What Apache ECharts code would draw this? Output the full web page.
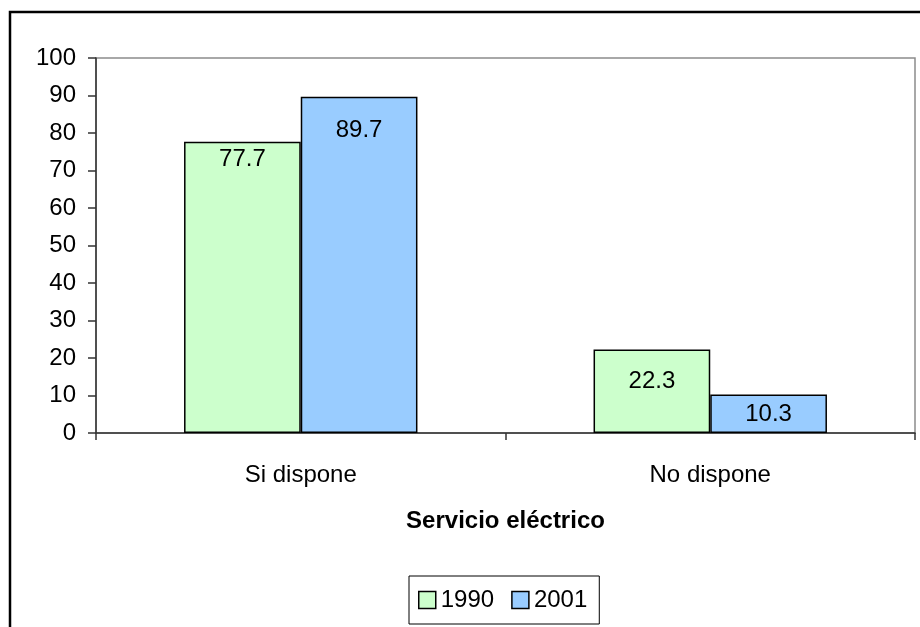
<!DOCTYPE html>
<html><head><meta charset="utf-8">
<script src="https://cdn.jsdelivr.net/npm/echarts@6/dist/echarts.min.js"></script>
<style>html,body{margin:0;padding:0;background:#fff}#c{width:920px;height:627px}</style>
</head><body><div id="c"></div>
<script>
const categories = ['Si dispone', 'No dispone'];
const seriesNames = ['1990', '2001'];
const values1990 = [77.7, 22.3];
const values2001 = [89.7, 10.3];
const yTicks = [0, 10, 20, 30, 40, 50, 60, 70, 80, 90, 100];
const xAxisTitle = 'Servicio eléctrico';

// label placement (style only)
const labelDist1990 = [6, 20];
const labelDist2001 = [22, 8];

const font = 'Liberation Sans, Arial, sans-serif';
const fs = 24;
function items(vals, dists) {
  return vals.map((v, i) => ({ value: v, label: { distance: dists[i] } }));
}
const chart = echarts.init(document.getElementById('c'));
chart.setOption({
  animation: false,
  backgroundColor: '#fff',
  textStyle: { fontFamily: font },
  grid: { left: 96, right: 5, top: 58, bottom: 194, show: true, borderColor: '#8c8c8c', borderWidth: 1.5, backgroundColor: 'transparent' },
  graphic: [{
    type: 'rect', shape: { x: 10, y: 12, width: 930, height: 640 },
    style: { fill: 'none', stroke: '#000', lineWidth: 2.5 }, z: 100
  }],
  legend: {
    data: seriesNames, left: 409, top: 576, orient: 'horizontal',
    padding: [12, 12, 12, 9], itemGap: 17, itemWidth: 17, itemHeight: 17,
    borderColor: '#000', borderWidth: 1, icon: 'rect',
    itemStyle: { borderColor: '#000', borderWidth: 1.5 },
    textStyle: { fontSize: fs, color: '#000', fontFamily: font }
  },
  xAxis: {
    type: 'category', data: categories,
    name: xAxisTitle, nameLocation: 'middle', nameGap: 76,
    nameTextStyle: { fontSize: fs, fontWeight: 'bold', color: '#000', fontFamily: font },
    axisLine: { lineStyle: { color: '#333', width: 1.5 } },
    axisTick: { show: true, length: 7, lineStyle: { color: '#333', width: 1.5 } },
    axisLabel: { fontSize: fs, color: '#000', margin: 30, fontFamily: font }
  },
  yAxis: {
    type: 'value', min: yTicks[0], max: yTicks[yTicks.length - 1], interval: 10,
    axisLine: { show: true, lineStyle: { color: '#333', width: 1.5 } },
    axisTick: { show: true, length: 8, lineStyle: { color: '#333', width: 1.5 } },
    splitLine: { show: false },
    axisLabel: { fontSize: fs, color: '#000', margin: 20, fontFamily: font }
  },
  series: [
    {
      name: seriesNames[0], type: 'bar', data: items(values1990, labelDist1990),
      barGap: '0%', barCategoryGap: '43%',
      itemStyle: { color: '#CCFFCC', borderColor: '#000', borderWidth: 1.5 },
      label: { show: true, position: 'insideTop', fontSize: fs, color: '#000', fontFamily: font }
    },
    {
      name: seriesNames[1], type: 'bar', data: items(values2001, labelDist2001),
      barGap: '0%', barCategoryGap: '43%',
      itemStyle: { color: '#99CCFF', borderColor: '#000', borderWidth: 1.5 },
      label: { show: true, position: 'insideTop', fontSize: fs, color: '#000', fontFamily: font }
    }
  ]
});
</script></body></html>
